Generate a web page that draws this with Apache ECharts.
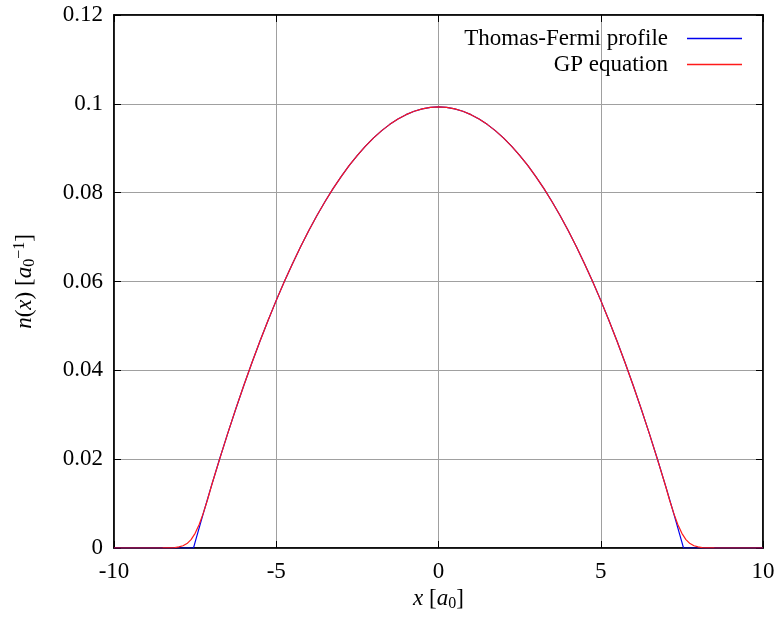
<!DOCTYPE html>
<html><head><meta charset="utf-8">
<script src="https://cdn.jsdelivr.net/npm/echarts@6/dist/echarts.min.js"></script>
<style>html,body{margin:0;padding:0;background:#fff}#c{width:777px;height:619px}</style>
</head><body><div id="c"></div>
<script>
const tfX = [-10,-9,-8,-7.55,-7.5,-7.25,-7,-6.75,-6.5,-6.25,-6,-5.75,-5.5,-5.25,-5,-4.75,-4.5,-4.25,-4,-3.75,-3.5,-3.25,-3,-2.75,-2.5,-2.25,-2,-1.75,-1.5,-1.25,-1,-0.75,-0.5,-0.25,0,0.25,0.5,0.75,1,1.25,1.5,1.75,2,2.25,2.5,2.75,3,3.25,3.5,3.75,4,4.25,4.5,4.75,5,5.25,5.5,5.75,6,6.25,6.5,6.75,7,7.25,7.5,7.55,8,9,10];
const tfY = [0,0,0,0,0.00131,0.00773,0.01394,0.01993,0.02570,0.03125,0.03659,0.04170,0.04660,0.05129,0.05575,0.06000,0.06402,0.06783,0.07143,0.07480,0.07796,0.08090,0.08362,0.08613,0.08841,0.09048,0.09233,0.09397,0.09538,0.09658,0.09756,0.09832,0.09886,0.09919,0.0993,0.09919,0.09886,0.09832,0.09756,0.09658,0.09538,0.09397,0.09233,0.09048,0.08841,0.08613,0.08362,0.08090,0.07796,0.07480,0.07143,0.06783,0.06402,0.06000,0.05575,0.05129,0.04660,0.04170,0.03659,0.03125,0.02570,0.01993,0.01394,0.00773,0.00131,0,0,0,0];
const gpX = [-10,-9,-8.5,-8.25,-8.125,-8,-7.875,-7.75,-7.625,-7.5,-7.375,-7.25,-7.125,-7,-6.75,-6.5,-6.25,-6,-5.75,-5.5,-5.25,-5,-4.75,-4.5,-4.25,-4,-3.75,-3.5,-3.25,-3,-2.75,-2.5,-2.25,-2,-1.75,-1.5,-1.25,-1,-0.75,-0.5,-0.25,0,0.25,0.5,0.75,1,1.25,1.5,1.75,2,2.25,2.5,2.75,3,3.25,3.5,3.75,4,4.25,4.5,4.75,5,5.25,5.5,5.75,6,6.25,6.5,6.75,7,7.125,7.25,7.375,7.5,7.625,7.75,7.875,8,8.125,8.25,8.5,9,10];
const gpY = [0,0,0.00001,0.00005,0.0001,0.00025,0.0005,0.0010,0.0019,0.0033,0.0053,0.0078,0.0107,0.0139,0.0199,0.0257,0.03126,0.03659,0.04170,0.04660,0.05129,0.05575,0.06000,0.06402,0.06783,0.07143,0.07480,0.07796,0.08090,0.08362,0.08613,0.08841,0.09048,0.09233,0.09397,0.09538,0.09658,0.09756,0.09832,0.09886,0.09919,0.0993,0.09919,0.09886,0.09832,0.09756,0.09658,0.09538,0.09397,0.09233,0.09048,0.08841,0.08613,0.08362,0.08090,0.07796,0.07480,0.07143,0.06783,0.06402,0.06000,0.05575,0.05129,0.04660,0.04170,0.03659,0.03126,0.0257,0.0199,0.0139,0.0107,0.0078,0.0053,0.0033,0.0019,0.0010,0.0005,0.00025,0.0001,0.00005,0.00001,0,0];
const seriesNames = ['Thomas-Fermi profile','GP equation'];
const seriesColors = ['#0000ee','#ff1a1a'];
const xTicks = {min:-10,max:10,interval:5};
const yTicks = {min:0,max:0.12,interval:0.02};

const FONT = 'Liberation Serif';
const FS = 23;
const chart = echarts.init(document.getElementById('c'), null, {renderer:'canvas'});
const tickCommon = {inside:true,length:7,lineStyle:{color:'#000',width:1}};
chart.setOption({
  animation:false,
  backgroundColor:'#fff',
  grid:{left:114,right:14,top:15,bottom:71,outerBoundsMode:'none',containLabel:false,show:true,borderColor:'#000',borderWidth:1.5,backgroundColor:'transparent'},
  legend:{
    orient:'vertical', right:30, top:22, align:'right', itemWidth:55, itemHeight:1.5, itemGap:3,
    textStyle:{fontFamily:FONT,fontSize:FS,color:'#000',padding:[0,14,0,0]},
    data:seriesNames.map((n,i)=>({name:n,icon:'rect',itemStyle:{color:seriesColors[i],borderWidth:0}}))
  },
  xAxis:[{
    type:'value', min:xTicks.min, max:xTicks.max, interval:xTicks.interval,
    axisLine:{show:true,onZero:false,lineStyle:{color:'#000',width:1.5}},
    axisTick:tickCommon,
    axisLabel:{fontFamily:FONT,fontSize:FS,color:'#000',margin:12},
    splitLine:{show:true,lineStyle:{color:'#a0a0a0',width:1}},
    name:'{i|x} [{i|a}{sub|0}]', nameLocation:'middle', nameGap:38,
    nameTextStyle:{fontFamily:FONT,fontSize:FS,color:'#000',rich:{
      i:{fontFamily:FONT,fontStyle:'italic',fontSize:FS,color:'#000'},
      sub:{fontFamily:FONT,fontSize:16,color:'#000',verticalAlign:'bottom',padding:[8,0,0,0]}}}
  },{
    type:'value', position:'top', min:xTicks.min, max:xTicks.max, interval:xTicks.interval,
    axisLine:{show:true,onZero:false,lineStyle:{color:'#000',width:1.5}}, axisTick:tickCommon,
    axisLabel:{show:false}, splitLine:{show:false}
  }],
  yAxis:[{
    type:'value', min:yTicks.min, max:yTicks.max, interval:yTicks.interval,
    axisLine:{show:true,onZero:false,lineStyle:{color:'#000',width:1.5}},
    axisTick:tickCommon,
    axisLabel:{fontFamily:FONT,fontSize:FS,color:'#000',margin:11},
    splitLine:{show:true,lineStyle:{color:'#a0a0a0',width:1}},
    name:'{i|n}({i|x}) [{i|a}{sub|0}{sup|−1}]', nameLocation:'middle', nameGap:76,
    nameTextStyle:{fontFamily:FONT,fontSize:FS,color:'#000',rich:{
      i:{fontFamily:FONT,fontStyle:'italic',fontSize:FS,color:'#000'},
      sub:{fontFamily:FONT,fontSize:16,color:'#000',verticalAlign:'bottom',padding:[8,0,0,0]},
      sup:{fontFamily:FONT,fontSize:16,color:'#000',verticalAlign:'top',padding:[0,0,10,0]}}}
  },{
    type:'value', position:'right', min:yTicks.min, max:yTicks.max, interval:yTicks.interval,
    axisLine:{show:true,onZero:false,lineStyle:{color:'#000',width:1.5}}, axisTick:tickCommon,
    axisLabel:{show:false}, splitLine:{show:false}
  }],
  series:[{
    name:seriesNames[0], type:'line', symbol:'none', color:seriesColors[0],
    lineStyle:{width:1.2,color:seriesColors[0]},
    data:tfX.map((x,i)=>[x,tfY[i]]), z:3
  },{
    name:seriesNames[1], type:'line', symbol:'none', color:seriesColors[1],
    lineStyle:{width:1.2,color:seriesColors[1]},
    data:gpX.map((x,i)=>[x,gpY[i]]), z:4
  }]
});
</script></body></html>
